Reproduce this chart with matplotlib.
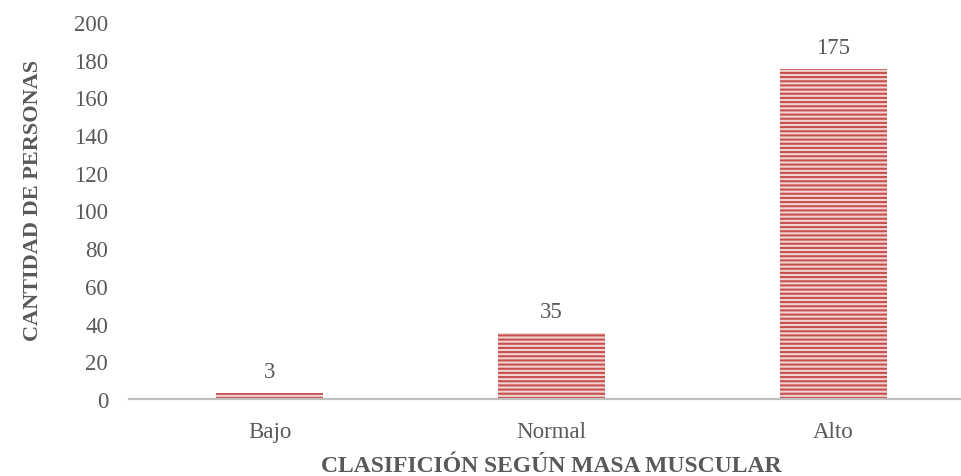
import matplotlib.pyplot as plt

plt.rcParams['font.family'] = ['Liberation Serif', 'DejaVu Serif']
plt.rcParams['hatch.linewidth'] = 1.5

categorias = ['Bajo', 'Normal', 'Alto']
personas = [3, 35, 175]
yticks = list(range(0, 201, 20))

gris = '#595959'

fig = plt.figure(figsize=(9.62, 4.77), dpi=100)
ax = fig.add_axes([129 / 962, 77 / 477, 845 / 962, 377 / 477])

x = range(len(categorias))
bars = ax.bar(x, personas, width=0.38, color='#f3d3d2', edgecolor='#c4514e',
              hatch='----', linewidth=0)

for b, v in zip(bars, personas):
    ax.annotate(str(v), (b.get_x() + b.get_width() / 2, v), xytext=(0, 8),
                textcoords='offset points', ha='center', va='bottom',
                fontsize=16.5, color=gris)

ax.set_xlim(-0.5, 2.5)
ax.set_ylim(0, 200)
ax.set_yticks(yticks)
ax.set_xticks(list(x))
ax.set_xticklabels(categorias)
ax.tick_params(axis='both', length=0, labelsize=16.5, labelcolor=gris)
ax.tick_params(axis='y', pad=15)
ax.tick_params(axis='x', pad=16)

for s in ['top', 'right', 'left']:
    ax.spines[s].set_visible(False)
ax.spines['bottom'].set_color('#bfbfbf')
ax.spines['bottom'].set_linewidth(1.6)

ax.set_ylabel('CANTIDAD DE PERSONAS', fontsize=16, fontweight='bold',
              color=gris)
ax.yaxis.set_label_coords(-0.102, 0.53)
ax.set_xlabel('CLASIFICIÓN SEGÚN MASA MUSCULAR', fontsize=17,
              fontweight='bold', color=gris, labelpad=9)

fig.savefig('out.png', dpi=100)
